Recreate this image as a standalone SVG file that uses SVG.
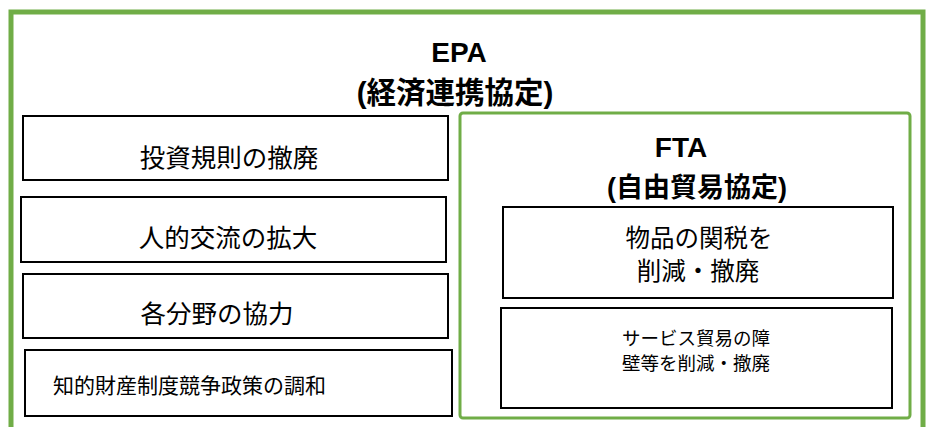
<svg xmlns="http://www.w3.org/2000/svg" width="932" height="427" viewBox="0 0 932 427">
<style>
text{font-family:"Liberation Sans","Noto Sans CJK JP",sans-serif;fill:#000}
.t{font-weight:bold;text-anchor:middle}
.box{fill:#fff;stroke:#000;stroke-width:2}
.c{text-anchor:middle}
</style>
<rect width="932" height="427" fill="#fff"/>
<g id="epa">
<rect x="11" y="12" width="912" height="440" fill="#fff" stroke="#70AD47" stroke-width="5"/>
<text class="t" x="459" y="62" font-size="28">EPA</text>
<text class="t" x="455" y="103" font-size="29.5">(経済連携協定)</text>
</g>
<g id="n1"><rect class="box" x="23" y="116" width="425" height="64"/><text class="c" x="229" y="167" font-size="25.5">投資規則の撤廃</text></g>
<g id="n2"><rect class="box" x="21" y="197" width="425" height="65"/><text class="c" x="228" y="247" font-size="25.5">人的交流の拡大</text></g>
<g id="n3"><rect class="box" x="23" y="274" width="425" height="64"/><text class="c" x="217" y="323" font-size="25.5">各分野の協力</text></g>
<g id="n4"><rect class="box" x="25" y="350" width="427" height="66"/><text x="53" y="393" font-size="21">知的財産制度競争政策の調和</text></g>
<g id="fta">
<rect x="460" y="113" width="450" height="305" rx="3" fill="#fff" stroke="#70AD47" stroke-width="3"/>
<text class="t" x="681" y="157" font-size="28">FTA</text>
<text class="t" x="697" y="197" font-size="27">(自由貿易協定)</text>
</g>
<g id="n5"><rect class="box" x="503" y="207" width="390" height="91"/><text class="c" x="699" y="247" font-size="24.5">物品の関税を</text><text class="c" x="698" y="280" font-size="24.5">削減・撤廃</text></g>
<g id="n6"><rect class="box" x="501" y="308" width="391" height="100"/><text class="c" x="696" y="345" font-size="18.5">サービス貿易の障</text><text class="c" x="696" y="370" font-size="18.5">壁等を削減・撤廃</text></g>
<g id="connectors"/>
</svg>
